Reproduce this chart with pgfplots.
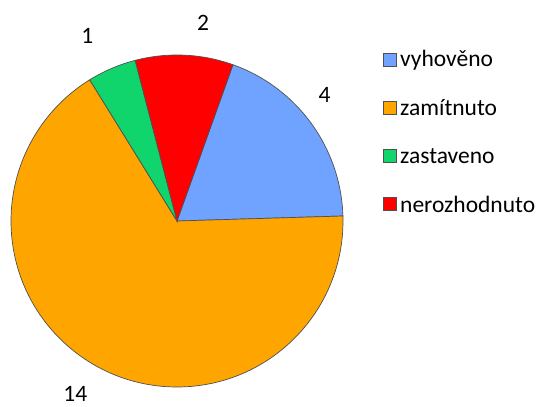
\documentclass[border=0pt]{standalone}
\usepackage{pgfplots}
\usepackage{pgfplotstable}
\pgfplotsset{compat=1.18}
\usetikzlibrary{calc}
\usepackage{fontspec}
\setmainfont{Carlito}
\definecolor{cblue}{HTML}{6FA3FF}
\definecolor{corange}{HTML}{FFA500}
\definecolor{cgreen}{HTML}{10D46C}
\definecolor{cred}{HTML}{FF0000}
\definecolor{cedge}{HTML}{505050}
% value, colour, label angle, label radius
\pgfplotstableread{
label value col la lr
vyhověno 4 cblue 40.5 194
zamítnuto 14 corange 239.6 201
zastaveno 1 cgreen 115.8 206
nerozhodnuto 2 cred 82.5 200
}\piedata
\begin{document}
\begin{tikzpicture}
\pgfplotstablegetrowsof{\piedata}
\pgfmathtruncatemacro\N{\pgfplotsretval-1}
\def\total{0}
\pgfplotsforeachungrouped \i in {0,...,\N}{%
  \pgfplotstablegetelem{\i}{value}\of\piedata
  \pgfmathsetmacro\total{\total+\pgfplotsretval}%
}
\def\cur{70.3}
\pgfplotsforeachungrouped \i in {0,...,\N}{%
  \pgfplotstablegetelem{\i}{value}\of\piedata
  \let\v\pgfplotsretval
  \pgfmathsetmacro\nxt{\cur-360*\v/\total}%
  \expandafter\xdef\csname sa\i\endcsname{\cur}%
  \expandafter\xdef\csname ea\i\endcsname{\nxt}%
  \expandafter\xdef\csname val\i\endcsname{\v}%
  \pgfplotstablegetelem{\i}{col}\of\piedata
  \expandafter\xdef\csname col\i\endcsname{\pgfplotsretval}%
  \pgfplotstablegetelem{\i}{label}\of\piedata
  \expandafter\xdef\csname lab\i\endcsname{\pgfplotsretval}%
  \pgfplotstablegetelem{\i}{la}\of\piedata
  \expandafter\xdef\csname la\i\endcsname{\pgfplotsretval}%
  \pgfplotstablegetelem{\i}{lr}\of\piedata
  \expandafter\xdef\csname lr\i\endcsname{\pgfplotsretval}%
  \global\let\cur\nxt
}
\begin{axis}[
  scale only axis, width=542bp, height=407bp,
  xmin=0, xmax=542, ymin=0, ymax=407,
  hide axis, clip=false,
]
\path (axis cs:0,0) rectangle (axis cs:542,407);
\pgfplotsinvokeforeach{0,...,\N}{%
  \fill[fill=\csname col#1\endcsname, draw=cedge, line width=0.7bp]
    (axis cs:177,186) -- +(\csname sa#1\endcsname:166bp)
    arc[start angle=\csname sa#1\endcsname, end angle=\csname ea#1\endcsname, radius=166bp] -- cycle;
  \node[font=\fontsize{23.5bp}{26bp}\selectfont, text=black, inner sep=1bp]
    at ($(axis cs:177,186)+(\csname la#1\endcsname:\csname lr#1\endcsname bp)$) {\csname val#1\endcsname};
  \fill[fill=\csname col#1\endcsname, draw=cedge, line width=0.5bp]
    (axis cs:383,{407-53-48*#1}) rectangle (axis cs:396,{407-66-48*#1});
  \node[anchor=west, inner sep=0pt, font=\fontsize{23.5bp}{26bp}\selectfont]
    at (axis cs:400,{407-60-48*#1}) {\csname lab#1\endcsname};
}
\end{axis}
\end{tikzpicture}
\end{document}
